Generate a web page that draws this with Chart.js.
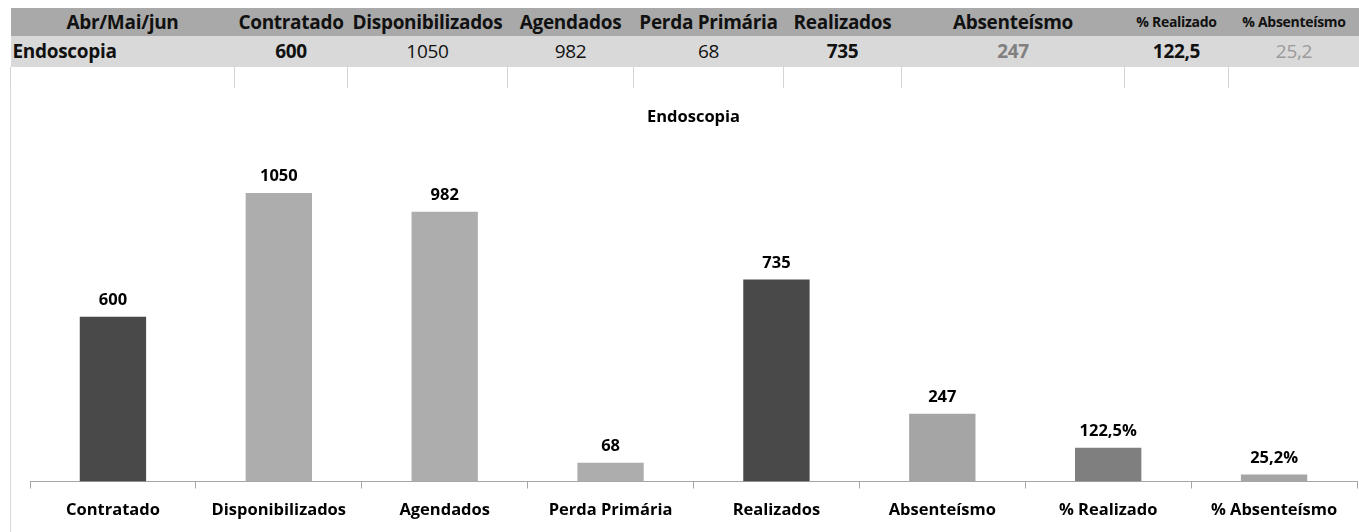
<!DOCTYPE html>
<html>
<head>
<meta charset="utf-8">
<script src="https://cdn.jsdelivr.net/npm/chart.js@4.4.1/dist/chart.umd.min.js"></script>
<style>
  body { margin: 0; background: #fff; font-family: "Open Sans", Lato, sans-serif; }
  #wrap { position: relative; width: 1359px; height: 532px; overflow: hidden; }
  #tbl { position: absolute; left: 10px; top: 8px; border-collapse: collapse; table-layout: fixed; }
  #tbl td { padding: 0; text-align: center; white-space: nowrap; overflow: hidden; color: #111; line-height: 1; letter-spacing: -0.3px; }
  #tbl tr.head td { background: #a9a9a9; height: 28px; font-weight: bold; font-size: 19px; }
  #tbl tr.head td.small { font-size: 14px; }
  #tbl tr.row td { background: #d9d9d9; height: 31px; font-size: 19px; }
  #tbl tr.row td:first-child { text-align: left; padding-left: 2px; font-weight: bold; }
  #tbl tr.blank td { height: 21px; border-right: 1px solid #d4d4d4; }
  #tbl tr.blank td:first-child { border-left: 1px solid #d4d4d4; }
  #frame { position: absolute; left: 10px; top: 88px; width: 1px; height: 444px; background: #d9d9d9; }
  #chart { position: absolute; left: 0; top: 88px; }
</style>
</head>
<body>
<div id="wrap">
  <table id="tbl"></table>
  <div id="frame"></div>
  <canvas id="chart" width="1359" height="444"></canvas>
</div>
<script>
const period = "Abr/Mai/jun";
const service = "Endoscopia";
const categories = ["Contratado", "Disponibilizados", "Agendados", "Perda Primária", "Realizados", "Absenteísmo", "% Realizado", "% Absenteísmo"];
const values = [600, 1050, 982, 68, 735, 247, 122.5, 25.2];
const units = ["", "", "", "", "", "", "%", "%"];

// bar fills
const barColors = ["#494949", "#adadad", "#adadad", "#adadad", "#494949", "#a5a5a5", "#7f7f7f", "#a5a5a5"];
// table: column widths and the look of each value cell
const colWidths = [224, 113, 160, 126, 150, 118, 223, 104, 131];
const cellStyle = [
  "font-weight:bold", "", "", "", "font-weight:bold",
  "font-weight:bold;color:#808080", "font-weight:bold", "color:#9a9a9a"
];

const fmt = (v, i) => String(v).replace(".", ",") + units[i];

// summary table above the chart
const tbl = document.getElementById("tbl");
tbl.style.width = colWidths.reduce((a, b) => a + b, 0) + "px";
const cols = colWidths.map(w => `<col style="width:${w}px">`).join("");
const head = `<tr class="head"><td>${period}</td>` + categories.map((c, i) =>
  `<td class="${units[i] ? "small" : ""}">${c}</td>`).join("") + "</tr>";
const row = `<tr class="row"><td>${service}</td>` + values.map((v, i) =>
  `<td style="${cellStyle[i]}">${String(v).replace(".", ",")}</td>`).join("") + "</tr>";
const blank = `<tr class="blank">` + colWidths.map(() => "<td></td>").join("") + "</tr>";
tbl.innerHTML = cols + head + row + blank;

const labelFont = { family: "'Open Sans', Lato, sans-serif", size: 16.5, weight: "bold" };

// value labels above every bar
const valueLabels = {
  id: "valueLabels",
  afterDatasetsDraw(chart) {
    const ctx = chart.ctx;
    const meta = chart.getDatasetMeta(0);
    ctx.save();
    ctx.font = `bold ${labelFont.size}px ${labelFont.family}`;
    ctx.fillStyle = "#000";
    ctx.textAlign = "center";
    ctx.textBaseline = "alphabetic";
    meta.data.forEach((bar, i) => {
      ctx.fillText(fmt(values[i], i), bar.x, bar.y - 12);
    });
    ctx.restore();
  }
};

new Chart(document.getElementById("chart"), {
  type: "bar",
  data: {
    labels: categories,
    datasets: [{
      data: values,
      backgroundColor: barColors,
      borderWidth: 0,
      barPercentage: 0.4,
      categoryPercentage: 1
    }]
  },
  options: {
    responsive: false,
    animation: false,
    layout: { padding: { left: 30, right: 2, top: 0, bottom: 0 } },
    plugins: {
      legend: { display: false },
      tooltip: { enabled: false },
      title: {
        display: true,
        text: service,
        fullSize: false,
        color: "#000",
        font: { ...labelFont, lineHeight: 1.2 },
        padding: { top: 19, bottom: 25 }
      }
    },
    scales: {
      x: {
        offset: true,
        grid: {
          offset: true,
          drawOnChartArea: false,
          drawTicks: true,
          tickLength: 7,
          color: "#a6a6a6"
        },
        border: { display: true, color: "#a6a6a6" },
        ticks: { color: "#000", font: labelFont, padding: 12, maxRotation: 0, autoSkip: false },
        afterFit(scale) { scale.height = 50.5; }
      },
      y: {
        display: false,
        min: 0,
        max: 1200
      }
    }
  },
  plugins: [valueLabels]
});
</script>
</body>
</html>
